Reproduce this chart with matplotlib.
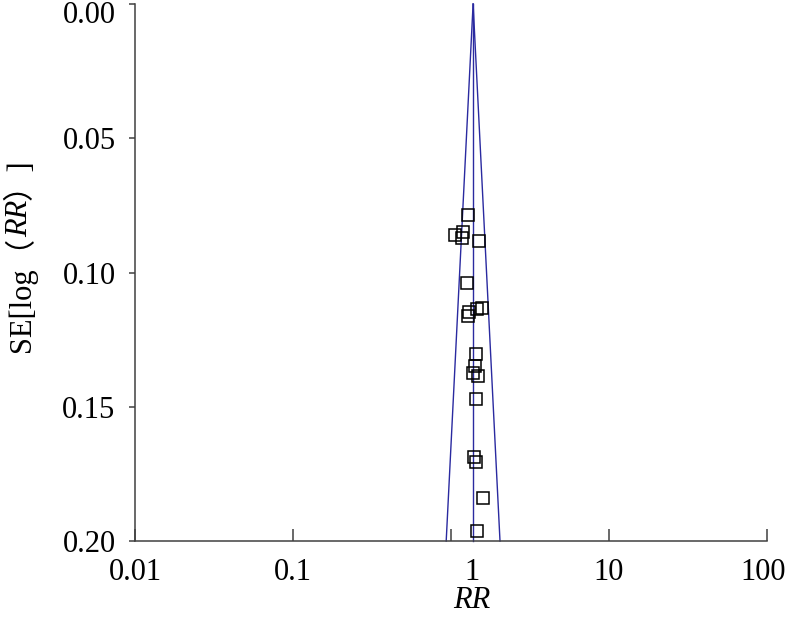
import matplotlib
matplotlib.use("Agg")
import matplotlib.pyplot as plt
import matplotlib.transforms as mtransforms
from matplotlib.ticker import FormatStrFormatter
import numpy as np

# study estimates
rr = [1.275, 1.060, 1.186, 1.179, 1.511, 1.257, 1.564, 1.467, 1.305, 1.275,
      1.439, 1.418, 1.372, 1.489, 1.439, 1.398, 1.439, 1.587, 1.467]
se = [0.0786, 0.0860, 0.0848, 0.0870, 0.0883, 0.1038, 0.1131, 0.1137, 0.1146, 0.1161,
      0.1304, 0.1348, 0.1373, 0.1385, 0.1470, 0.1687, 0.1705, 0.1839, 0.1963]
pooled_rr = 1.38
se_max = 0.20

x_ticks = [0.01, 0.1, 1, 10, 100]
x_labels = ["0.01", "0.1", "1", "10", "100"]
y_ticks = [0.00, 0.05, 0.10, 0.15, 0.20]

serif = ["Liberation Serif", "Noto Sans CJK SC"]
plt.rcParams["font.family"] = serif
axis_col = "#404040"
line_col = "#2a2aa0"
fs = 22

fig = plt.figure(figsize=(7.86, 6.25), dpi=100)
ax = fig.add_axes([135 / 786, 1 - 541 / 625, (767 - 135) / 786, (541 - 4) / 625])

# funnel limits (95%) and pooled line
lo = pooled_rr * np.exp(-1.96 * se_max)
hi = pooled_rr * np.exp(1.96 * se_max)
ax.plot([pooled_rr, lo], [0, se_max], color=line_col, lw=1.0, clip_on=False)
ax.plot([pooled_rr, hi], [0, se_max], color=line_col, lw=1.0, clip_on=False)
ax.plot([pooled_rr, pooled_rr], [0, se_max], color=line_col, lw=1.0, clip_on=False)

ax.plot(rr, se, ls="none", marker="s", ms=8, mfc="none", mec="black", mew=1.1, clip_on=False)

ax.set_xscale("log")
ax.set_xlim(0.01, 100)
ax.set_ylim(se_max, 0)
ax.set_xticks(x_ticks)
ax.set_xticklabels(x_labels)
ax.minorticks_off()
ax.set_yticks(y_ticks)
ax.yaxis.set_major_formatter(FormatStrFormatter("%.2f"))

for s in ["top", "right"]:
    ax.spines[s].set_visible(False)
for s in ["left", "bottom"]:
    ax.spines[s].set_color(axis_col)
    ax.spines[s].set_linewidth(1.1)

ax.tick_params(axis="x", direction="in", length=8.5, width=1.1, color=axis_col,
               labelsize=fs, pad=12)
ax.tick_params(axis="y", direction="out", length=4, width=1.1, color=axis_col,
               labelsize=fs, pad=10)

# the "1" label sits under the pooled line in the original; "100" hugs the edge
xl = ax.get_xticklabels()
xl[2].set_transform(xl[2].get_transform() + mtransforms.ScaledTranslation(0.21, 0, fig.dpi_scale_trans))
xl[4].set_transform(xl[4].get_transform() + mtransforms.ScaledTranslation(-0.04, 0, fig.dpi_scale_trans))
yl = ax.get_yticklabels()
yl[0].set_transform(yl[0].get_transform() + mtransforms.ScaledTranslation(0, -0.08, fig.dpi_scale_trans))

# x label
fig.text(472 / 786, 1 - 601 / 625, "RR", fontsize=fs, style="italic",
         ha="center", va="center")

# y label built in pieces: SE[log（RR）]
t1 = fig.text(20 / 786, 1 - 352 / 625, "SE[log（", fontsize=fs, rotation=90,
              ha="center", va="bottom", family=serif)
t2 = ax.annotate("RR", xy=(0.5, 1), xycoords=t1, fontsize=fs, rotation=90,
                 ha="center", va="bottom", style="italic", family=serif,
                 annotation_clip=False)
t3 = ax.annotate("）]", xy=(0.5, 1), xycoords=t2, fontsize=fs, rotation=90,
                 ha="center", va="bottom", family=serif, annotation_clip=False)

fig.savefig("out.png", dpi=100)
